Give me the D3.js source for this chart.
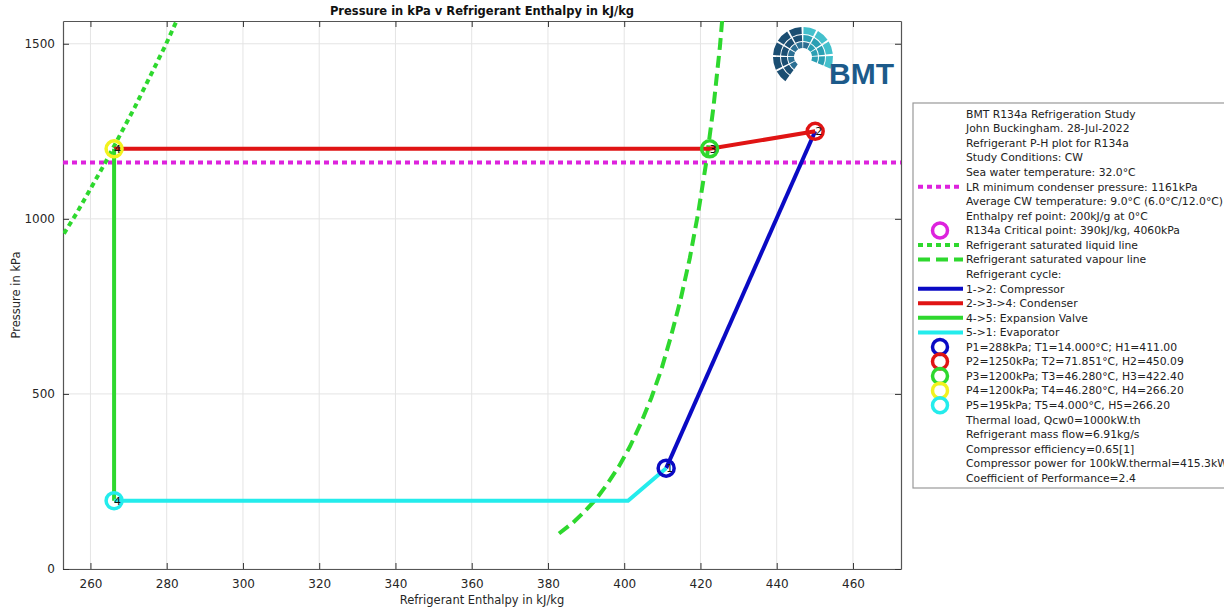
<!DOCTYPE html>
<html>
<head>
<meta charset="utf-8">
<script src="https://cdn.jsdelivr.net/npm/d3@7"></script>
<style>
  body { margin: 0; background: #fff; }
  svg { display: block; font-family: "DejaVu Sans", Verdana, sans-serif; }
</style>
</head>
<body>
<svg id="chart" width="1224" height="610"></svg>
<script>
// R134a saturation data (pressure kPa, liquid / vapour enthalpy kJ/kg)
const satP   = [101.3, 132.7, 163.9, 200.6, 243.4, 292.8, 349.6, 414.6, 488.3, 571.7, 665.8, 770.2, 887.5, 1016.5, 1160.5, 1318.1, 1491.5, 1681.8];
const liqH   = [165.4, 173.6, 180.1, 186.7, 193.3, 200.0, 206.8, 213.6, 220.5, 227.5, 234.6, 241.7, 249.0, 256.4, 263.9, 271.6, 279.5, 287.5];
const vapH   = [382.9, 386.6, 389.6, 392.7, 395.6, 398.6, 401.5, 404.3, 407.1, 409.8, 412.3, 414.8, 417.2, 419.4, 421.5, 423.4, 425.1, 426.6];

// cycle state points
const pointLabel = ["1", "2", "3", "4", "4"];
const pointH = [411.00, 450.09, 422.40, 266.20, 266.20];
const pointP = [288, 1250, 1200, 1200, 195];
const pointColor = ["#0a0ac4", "#e01414", "#2ed82e", "#f2f21e", "#24ecec"];

// evaporator knee and LR limit
const evapKneeH = 401.0;
const minCondP = 1161;

const xTicks = [260, 280, 300, 320, 340, 360, 380, 400, 420, 440, 460];
const yTicks = [0, 500, 1000, 1500];

const legendLines = [
  "BMT R134a Refrigeration Study",
  "John Buckingham. 28-Jul-2022",
  "Refrigerant P-H plot for R134a",
  "Study Conditions: CW",
  "Sea water temperature: 32.0°C",
  "LR minimum condenser pressure: 1161kPa",
  "Average CW temperature: 9.0°C (6.0°C/12.0°C)",
  "Enthalpy ref point: 200kJ/g at 0°C",
  "R134a Critical point: 390kJ/kg, 4060kPa",
  "Refrigerant saturated liquid line",
  "Refrigerant saturated vapour line",
  "Refrigerant cycle:",
  "1->2: Compressor",
  "2->3->4: Condenser",
  "4->5: Expansion Valve",
  "5->1: Evaporator",
  "P1=288kPa; T1=14.000°C; H1=411.00",
  "P2=1250kPa; T2=71.851°C, H2=450.09",
  "P3=1200kPa; T3=46.280°C, H3=422.40",
  "P4=1200kPa; T4=46.280°C, H4=266.20",
  "P5=195kPa; T5=4.000°C, H5=266.20",
  "Thermal load, Qcw0=1000kW.th",
  "Refrigerant mass flow=6.91kg/s",
  "Compressor efficiency=0.65[1]",
  "Compressor power for 100kW.thermal=415.3kW",
  "Coefficient of Performance=2.4"
];

const svg = d3.select("#chart");
const margin = {left: 63, right: 323, top: 21, bottom: 41};
const W = 1224 - margin.left - margin.right, H = 610 - margin.top - margin.bottom;

const x = d3.scaleLinear().domain([252.8, 472.6]).range([0, W]);
const y = d3.scaleLinear().domain([0, 1565]).range([H, 0]);

const g = svg.append("g").attr("transform", `translate(${margin.left},${margin.top})`);

svg.append("defs").append("clipPath").attr("id", "clip")
  .append("rect").attr("width", W).attr("height", H);

// grid
g.append("g").selectAll("line").data(xTicks).enter().append("line")
  .attr("x1", d => x(d)).attr("x2", d => x(d)).attr("y1", 0).attr("y2", H)
  .attr("stroke", "#e4e4e4").attr("stroke-width", 1);
g.append("g").selectAll("line").data(yTicks).enter().append("line")
  .attr("y1", d => y(d)).attr("y2", d => y(d)).attr("x1", 0).attr("x2", W)
  .attr("stroke", "#e4e4e4").attr("stroke-width", 1);

// axes (ticks inside, box all round)
const axColor = "#555";
const xb = g.append("g").attr("transform", `translate(0,${H})`)
  .call(d3.axisBottom(x).tickValues(xTicks).tickSizeInner(-6).tickSizeOuter(0).tickPadding(10));
const xt = g.append("g")
  .call(d3.axisTop(x).tickValues(xTicks).tickSizeInner(-6).tickSizeOuter(0).tickFormat(""));
const yl = g.append("g")
  .call(d3.axisLeft(y).tickValues(yTicks).tickFormat(d3.format("d")).tickSizeInner(-6).tickSizeOuter(0).tickPadding(8));
const yr = g.append("g").attr("transform", `translate(${W},0)`)
  .call(d3.axisRight(y).tickValues(yTicks).tickSizeInner(-6).tickSizeOuter(0).tickFormat(""));
[xb, xt, yl, yr].forEach(a => {
  a.select(".domain").attr("stroke", axColor).attr("stroke-width", 1.2);
  a.selectAll(".tick line").attr("stroke", "#333");
  a.selectAll("text").attr("font-family", "DejaVu Sans").attr("font-size", 12).attr("fill", "#262626");
});

const line = d3.line().x(d => x(d[0])).y(d => y(d[1]));
const plot = g.append("g").attr("clip-path", "url(#clip)");

// LR minimum condenser pressure
plot.append("path").attr("d", line([[x.domain()[0], minCondP], [x.domain()[1], minCondP]]))
  .attr("fill", "none").attr("stroke", "#dd22dd").attr("stroke-width", 4).attr("stroke-dasharray", "5,4");

// saturation lines
plot.append("path").attr("d", line(satP.map((p, i) => [liqH[i], p])))
  .attr("fill", "none").attr("stroke", "#2ed82e").attr("stroke-width", 4).attr("stroke-dasharray", "5,4");
plot.append("path").attr("d", line(satP.map((p, i) => [vapH[i], p])))
  .attr("fill", "none").attr("stroke", "#2ed82e").attr("stroke-width", 4).attr("stroke-dasharray", "12,6");

// cycle legs
const pt = i => [pointH[i], pointP[i]];
const legs = [
  {pts: [pt(0), pt(1)], color: "#0a0ac4"},
  {pts: [pt(1), pt(2), pt(3)], color: "#e01414"},
  {pts: [pt(3), pt(4)], color: "#2ed82e"},
  {pts: [pt(4), [evapKneeH, pointP[4]], pt(0)], color: "#24ecec"}
];
plot.selectAll("path.leg").data(legs).enter().append("path").attr("class", "leg")
  .attr("d", d => line(d.pts)).attr("fill", "none")
  .attr("stroke", d => d.color).attr("stroke-width", 4);

// state point markers and labels
plot.selectAll("circle.pt").data(pointH).enter().append("circle").attr("class", "pt")
  .attr("cx", d => x(d)).attr("cy", (d, i) => y(pointP[i])).attr("r", 8)
  .attr("fill", "none").attr("stroke", (d, i) => pointColor[i]).attr("stroke-width", 3.5);
plot.selectAll("text.lbl").data(pointH).enter().append("text").attr("class", "lbl")
  .attr("x", d => x(d)).attr("y", (d, i) => y(pointP[i])).attr("dy", "0.36em")
  .attr("font-size", 11).attr("fill", "#111").text((d, i) => pointLabel[i]);

// BMT logo
const logo = g.append("g").attr("transform", `translate(${803 - margin.left},${57 - margin.top})`);
const arc = d3.arc();
const rings = [[9, 15], [16, 22], [23, 30]];
const nSeg = 9, a0s = -0.8 * Math.PI, span = 1.45 * Math.PI;
rings.forEach((r, ri) => {
  for (let k = 0; k < nSeg; k++) {
    const a0 = a0s + k * (span / nSeg);
    const a1 = a0 + span / nSeg - 0.07;
    const teal = k >= 6 || (k >= 5 && ri > 0);
    logo.append("path")
      .attr("d", arc({innerRadius: r[0], outerRadius: r[1], startAngle: a0, endAngle: a1}))
      .attr("fill", teal ? (ri === 2 ? "#43c0cc" : "#2a9fb3") : (ri === 0 ? "#2b6f93" : "#1b4e72"));
  }
});
logo.append("text").attr("x", 26).attr("y", 27).attr("font-family", "Liberation Sans, Arial")
  .attr("font-weight", "bold").attr("font-size", 30).attr("fill", "#1c5a8a").text("BMT");

// title and labels
svg.append("text").attr("x", margin.left + W / 2).attr("y", 15).attr("text-anchor", "middle")
  .attr("font-weight", "bold").attr("font-size", 11.5).attr("fill", "#111")
  .text("Pressure in kPa v Refrigerant Enthalpy in kJ/kg");
svg.append("text").attr("x", margin.left + W / 2).attr("y", 604).attr("text-anchor", "middle")
  .attr("font-size", 11.5).attr("fill", "#262626").text("Refrigerant Enthalpy in kJ/kg");
svg.append("text").attr("transform", `translate(20,${margin.top + H / 2}) rotate(-90)`)
  .attr("text-anchor", "middle").attr("font-size", 11.5).attr("fill", "#262626").text("Pressure in kPa");

// legend
const lg = svg.append("g").attr("transform", "translate(913,103)");
lg.append("rect").attr("width", 330).attr("height", 385).attr("fill", "#fff")
  .attr("stroke", "#999").attr("stroke-width", 1.2);
const ly = i => 11 + i * 14.56;
lg.selectAll("text.lt").data(legendLines).enter().append("text").attr("class", "lt")
  .attr("x", 53).attr("y", (d, i) => ly(i)).attr("dy", "0.35em")
  .attr("font-size", 10.8).attr("fill", "#222").text(d => d);

const legendLineSamples = [
  {i: 5, color: "#dd22dd", dash: "5,4"},
  {i: 9, color: "#2ed82e", dash: "5,4"},
  {i: 10, color: "#2ed82e", dash: "12,6"},
  {i: 12, color: "#0a0ac4", dash: null},
  {i: 13, color: "#e01414", dash: null},
  {i: 14, color: "#2ed82e", dash: null},
  {i: 15, color: "#24ecec", dash: null}
];
lg.selectAll("line.ls").data(legendLineSamples).enter().append("line").attr("class", "ls")
  .attr("x1", 5).attr("x2", 50).attr("y1", d => ly(d.i)).attr("y2", d => ly(d.i))
  .attr("stroke", d => d.color).attr("stroke-width", 4)
  .attr("stroke-dasharray", d => d.dash);

const legendMarkers = [{i: 8, color: "#dd22dd"}].concat(pointColor.map((c, k) => ({i: 16 + k, color: c})));
lg.selectAll("circle.lm").data(legendMarkers).enter().append("circle").attr("class", "lm")
  .attr("cx", 27).attr("cy", d => ly(d.i)).attr("r", 7.5)
  .attr("fill", "none").attr("stroke", d => d.color).attr("stroke-width", 3.5);
</script>
</body>
</html>
